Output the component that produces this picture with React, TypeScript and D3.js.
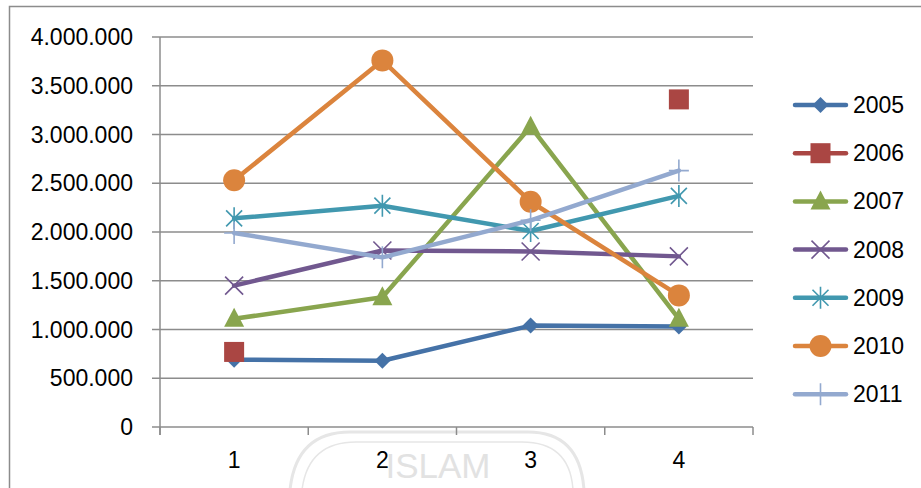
import React from "react";
import * as d3 from "d3";

const categories = ["1", "2", "3", "4"];
const yTicks = [0, 500000, 1000000, 1500000, 2000000, 2500000, 3000000, 3500000, 4000000];
const seriesNames = ["2005", "2006", "2007", "2008", "2009", "2010", "2011"];
const s2005 = [690000, 680000, 1040000, 1030000];
const s2006 = [770000, null, null, 3360000];
const s2007 = [1110000, 1330000, 3080000, 1110000];
const s2008 = [1450000, 1810000, 1800000, 1750000];
const s2009 = [2140000, 2270000, 2010000, 2370000];
const s2010 = [2530000, 3760000, 2310000, 1350000];
const s2011 = [1990000, 1740000, 2120000, 2630000];
const seriesValues: (number | null)[][] = [s2005, s2006, s2007, s2008, s2009, s2010, s2011];
const colors = ["#4572A7", "#AA4643", "#89A54E", "#71588F", "#4198AF", "#DB843D", "#93A9CF"];
const markers = ["diamond", "square", "triangle", "x", "star", "circle", "plus"];

const W = 921, H = 488;
const plotL = 160, plotR = 753, plotT = 37, plotB = 427;
const FONT = "'Liberation Sans', Arial, sans-serif";

function Marker({ type, x, y, color }: { type: string; x: number; y: number; color: string }) {
  switch (type) {
    case "diamond":
      return <path d={`M${x},${y - 8}L${x + 8},${y}L${x},${y + 8}L${x - 8},${y}Z`} fill={color} />;
    case "square":
      return <rect x={x - 10} y={y - 10} width={20} height={20} fill={color} />;
    case "triangle":
      return <path d={`M${x},${y - 11}L${x + 10},${y + 8}L${x - 10},${y + 8}Z`} fill={color} />;
    case "x":
      return <path d={`M${x - 9},${y - 9}L${x + 9},${y + 9}M${x - 9},${y + 9}L${x + 9},${y - 9}`} stroke={color} strokeWidth={1.6} fill="none" />;
    case "star":
      return <path d={`M${x - 8},${y - 8}L${x + 8},${y + 8}M${x - 8},${y + 8}L${x + 8},${y - 8}M${x},${y - 11}L${x},${y + 11}`} stroke={color} strokeWidth={1.6} fill="none" />;
    case "circle":
      return <circle cx={x} cy={y} r={11} fill={color} />;
    case "plus":
      return <path d={`M${x - 10},${y}L${x + 10},${y}M${x},${y - 11}L${x},${y + 11}`} stroke={color} strokeWidth={1.6} fill="none" />;
  }
  return null;
}

export default function App() {
  const x = d3.scaleBand<string>().domain(categories).range([plotL, plotR]);
  const y = d3.scaleLinear().domain([0, 4000000]).range([plotB, plotT]);
  const cx = (c: string) => (x(c) as number) + x.bandwidth() / 2;
  const fmt = (v: number) => (v === 0 ? "0" : d3.format(",")(v).replace(/,/g, "."));
  const line = d3
    .line<number | null>()
    .defined((d) => d !== null)
    .x((_, i) => cx(categories[i]))
    .y((d) => y(d as number));
  const bounds = [plotL, ...categories.map((c) => (x(c) as number) + x.bandwidth())];
  const legendY0 = 105, legendStep = 48.2;

  return (
    <svg width={W} height={H} style={{ position: "absolute", left: 0, top: 0, background: "#fff" }} fontFamily={FONT}>
      <rect x={0} y={0} width={W} height={H} fill="#fff" />
      {/* watermark */}
      <g fill="none" stroke="#e6e6e6" strokeWidth={3}>
        <path d="M290,490 Q296,432 350,432 L528,432 Q580,432 584,490" />
        <path d="M302,490 Q308,442 356,442 L522,442 Q570,442 573,490" strokeWidth={1.5} />
      </g>
      <text x={438} y={478} textAnchor="middle" fontSize={35} fill="#e2e2e2" fontFamily={FONT}>ISLAM</text>
      {/* outer border */}
      <rect x={9.5} y={6.5} width={930} height={500} fill="none" stroke="#8c8c8c" strokeWidth={1.5} />
      {/* gridlines */}
      {yTicks.map((t) => (
        <g key={t}>
          <line x1={152} x2={plotR} y1={y(t)} y2={y(t)} stroke="#8c8c8c" strokeWidth={1.5} />
          <text x={133} y={y(t)} dy="0.35em" textAnchor="end" fontSize={23} fill="#000">{fmt(t)}</text>
        </g>
      ))}
      <line x1={plotL} x2={plotL} y1={plotT} y2={plotB + 8} stroke="#8c8c8c" strokeWidth={1.5} />
      {bounds.map((b, i) => (
        <line key={i} x1={b} x2={b} y1={plotB} y2={plotB + 8} stroke="#8c8c8c" strokeWidth={1.5} />
      ))}
      {categories.map((c) => (
        <text key={c} x={cx(c)} y={468} textAnchor="middle" fontSize={23} fill="#000">{c}</text>
      ))}
      {/* series */}
      {seriesValues.map((vals, si) => (
        <g key={si}>
          <path d={line(vals) || ""} fill="none" stroke={colors[si]} strokeWidth={4.5} strokeLinejoin="round" strokeLinecap="round" />
          {vals.map((v, i) =>
            v === null ? null : <Marker key={i} type={markers[si]} x={cx(categories[i])} y={y(v)} color={colors[si]} />
          )}
        </g>
      ))}
      {/* legend */}
      {seriesNames.map((n, i) => {
        const ly = legendY0 + i * legendStep;
        return (
          <g key={n}>
            <line x1={795} x2={846} y1={ly} y2={ly} stroke={colors[i]} strokeWidth={4.5} strokeLinecap="round" />
            <Marker type={markers[i]} x={820.5} y={ly} color={colors[i]} />
            <text x={853} y={ly} dy="0.35em" fontSize={23} fill="#000">{n}</text>
          </g>
        );
      })}
    </svg>
  );
}
